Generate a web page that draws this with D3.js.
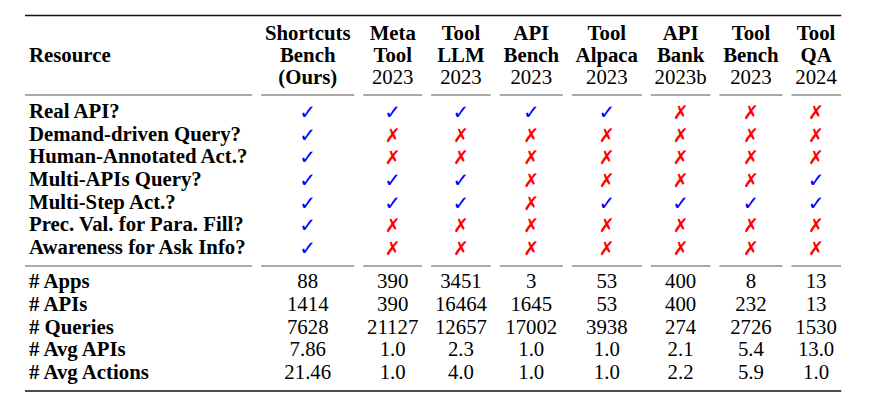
<!DOCTYPE html>
<html><head><meta charset="utf-8">
<script src="https://cdn.jsdelivr.net/npm/d3@7"></script>
<style>
html,body{margin:0;padding:0;background:#fff;}
svg{display:block;}
text{font-family:"Liberation Serif","Times New Roman",serif;font-size:20.8px;fill:#000;}
.b{font-weight:bold;}
.mark{font-family:"DejaVu Sans",sans-serif;}
</style></head>
<body>
<script>
// ---- data ----
const headerBold = [["Shortcuts","Bench"],["Meta","Tool"],["Tool","LLM"],["API","Bench"],["Tool","Alpaca"],["API","Bank"],["Tool","Bench"],["Tool","QA"]];
const headerSub = ["(Ours)","2023","2023","2023","2023","2023b","2023","2024"];
const headerSubBold = [true,false,false,false,false,false,false,false];
const features = ["Real API?","Demand-driven Query?","Human-Annotated Act.?","Multi-APIs Query?","Multi-Step Act.?","Prec. Val. for Para. Fill?","Awareness for Ask Info?"];
const realApi      = [1,1,1,1,1,0,0,0];
const demandDriven = [1,0,0,0,0,0,0,0];
const humanAnnot   = [1,0,0,0,0,0,0,0];
const multiApis    = [1,1,1,0,0,0,0,1];
const multiStep    = [1,1,1,0,1,1,1,1];
const precVal      = [1,0,0,0,0,0,0,0];
const awareness    = [1,0,0,0,0,0,0,0];
const statLabels = ["# Apps","# APIs","# Queries","# Avg APIs","# Avg Actions"];
const apps      = ["88","390","3451","3","53","400","8","13"];
const apis      = ["1414","390","16464","1645","53","400","232","13"];
const queries   = ["7628","21127","12657","17002","3938","274","2726","1530"];
const avgApis   = ["7.86","1.0","2.3","1.0","1.0","2.1","5.4","13.0"];
const avgActions= ["21.46","1.0","4.0","1.0","1.0","2.2","5.9","1.0"];

const featureRows = [realApi,demandDriven,humanAnnot,multiApis,multiStep,precVal,awareness];
const statRows = [apps,apis,queries,avgApis,avgActions];

// ---- layout ----
const W = 887, H = 416;
const svg = d3.select("body").append("svg").attr("width",W).attr("height",H);

const meas = svg.append("g").attr("opacity",0);
function tw(s,bold){const t=meas.append("text").attr("class",bold?"b":null).text(s);const w=t.node().getComputedTextLength();t.remove();return w;}
const pad = 8.3, tableLeft = 25, firstPad = 4;
const col0W = firstPad + d3.max(features.concat(statLabels,["Resource"]),s=>tw(s,true)) + pad + 1;
const colW = headerBold.map((hb,i)=>{
  const ws = hb.map(s=>tw(s,true)).concat([tw(headerSub[i],headerSubBold[i])], statRows.map(r=>tw(r[i],false)));
  return d3.max(ws) + 2*pad;
});
const edges = [tableLeft, tableLeft+col0W];
colW.forEach(w=>edges.push(edges[edges.length-1]+w));
const tableRight = edges[edges.length-1] - 4;
const colCenter = d3.range(8).map(i=>(edges[i+1]+edges[i+2])/2);
const x = d3.scaleOrdinal().domain(d3.range(8)).range(colCenter);

const yHead = d3.scaleLinear().domain([0,2]).range([40,84]);
const yFeat = d3.scaleLinear().domain([0,6]).range([118,254]);
const yStat = d3.scaleLinear().domain([0,4]).range([288,379]);

function rule(x1,x2,y,w,c){svg.append("line").attr("x1",x1).attr("x2",x2).attr("y1",y).attr("y2",y).attr("stroke",c).attr("stroke-width",w);}
rule(tableLeft, tableRight, 15.5, 1.5, "#111");
rule(tableLeft, tableRight, 391, 1.5, "#111");
[95, 266].forEach(yy=>{
  rule(tableLeft, edges[1]-4.5, yy, 1, "#555");
  for(let i=0;i<8;i++){
    const l = edges[i+1]+4.5, r = i===7 ? tableRight : edges[i+2]-4.5;
    rule(l, r, yy, 1, "#555");
  }
});

// header
svg.append("text").attr("class","b").attr("x",tableLeft+firstPad).attr("y",yHead(1)).text("Resource");
headerBold.forEach((hb,i)=>{
  hb.forEach((s,j)=>svg.append("text").attr("class","b").attr("text-anchor","middle").attr("x",x(i)).attr("y",yHead(j)).text(s));
  svg.append("text").attr("class",headerSubBold[i]?"b":null).attr("text-anchor","middle").attr("x",x(i)).attr("y",yHead(2)).text(headerSub[i]);
});

// feature rows
features.forEach((f,r)=>{
  svg.append("text").attr("class","b").attr("x",tableLeft+firstPad).attr("y",yFeat(r)).text(f);
  featureRows[r].forEach((v,i)=>{
    svg.append("text").attr("class","mark").attr("text-anchor","middle")
      .attr("x",x(i)).attr("y",yFeat(r)+1)
      .style("font-size", v? "20px":"19px").style("font-weight", v?"normal":"bold")
      .style("fill", v? "#0000ff":"#ff0000")
      .text(v? "\u2713":"\u2717");
  });
});

// stat rows
statLabels.forEach((s,r)=>{
  svg.append("text").attr("class","b").attr("x",tableLeft+firstPad).attr("y",yStat(r)).text(s);
  statRows[r].forEach((v,i)=>{
    svg.append("text").attr("text-anchor","middle").attr("x",x(i)).attr("y",yStat(r)).text(v);
  });
});
</script>
</body></html>
